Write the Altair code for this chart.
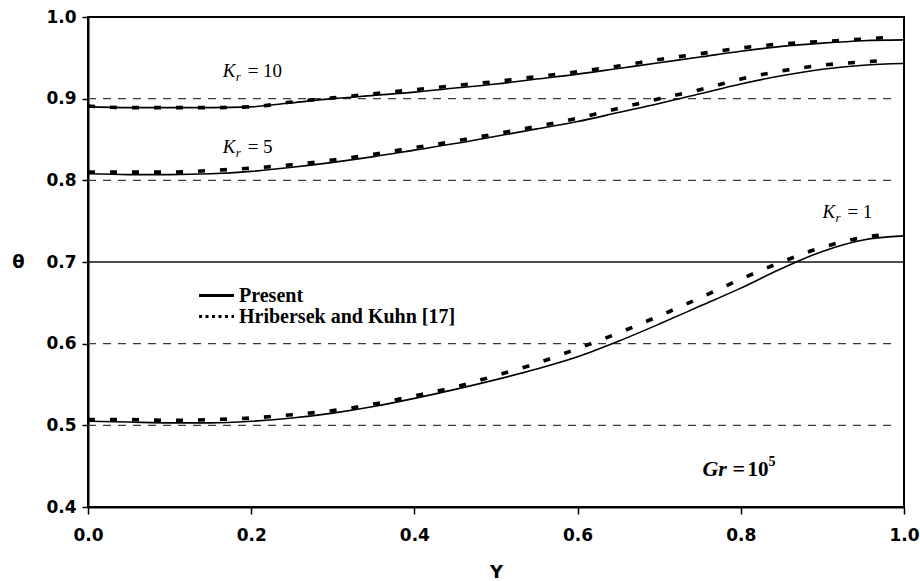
import altair as alt
import pandas as pd

# ---------------- data ----------------
Y_PRESENT = [0.0, 0.05, 0.1, 0.15, 0.2, 0.25, 0.3, 0.35, 0.4, 0.45, 0.5,
             0.55, 0.6, 0.65, 0.7, 0.75, 0.8, 0.85, 0.9, 0.95, 1.0]
Y_HK = [0.0, 0.05, 0.1, 0.15, 0.2, 0.25, 0.3, 0.35, 0.4, 0.45, 0.5,
        0.55, 0.6, 0.65, 0.7, 0.75, 0.8, 0.85, 0.9, 0.95, 0.98]

KR10_PRESENT = [0.890, 0.889, 0.889, 0.889, 0.890, 0.895, 0.900, 0.904, 0.908, 0.913, 0.918,
                0.924, 0.930, 0.937, 0.944, 0.951, 0.958, 0.964, 0.968, 0.971, 0.972]
KR10_HK = [0.891, 0.889, 0.889, 0.889, 0.890, 0.896, 0.901, 0.906, 0.911, 0.916, 0.921,
           0.927, 0.933, 0.940, 0.948, 0.955, 0.962, 0.967, 0.970, 0.973, 0.975]
KR5_PRESENT = [0.808, 0.807, 0.807, 0.808, 0.811, 0.816, 0.822, 0.829, 0.837, 0.845, 0.854,
               0.863, 0.872, 0.883, 0.894, 0.906, 0.918, 0.928, 0.936, 0.941, 0.943]
KR5_HK = [0.810, 0.810, 0.810, 0.812, 0.815, 0.819, 0.825, 0.832, 0.840, 0.848, 0.857,
          0.866, 0.876, 0.888, 0.900, 0.911, 0.924, 0.934, 0.941, 0.945, 0.947]
KR1_PRESENT = [0.505, 0.504, 0.503, 0.503, 0.505, 0.509, 0.515, 0.523, 0.533, 0.544, 0.556,
               0.569, 0.584, 0.603, 0.624, 0.646, 0.668, 0.692, 0.713, 0.727, 0.732]
KR1_HK = [0.507, 0.507, 0.506, 0.507, 0.509, 0.513, 0.518, 0.526, 0.536, 0.547, 0.561,
          0.576, 0.594, 0.613, 0.634, 0.656, 0.679, 0.700, 0.718, 0.730, 0.734]

PRESENT = "Present"
HK = "Hribersek and Kuhn [17]"

GRID_DASHED = [0.5, 0.6, 0.8, 0.9]
GRID_SOLID = [0.7]
GRID_DASH_END = 0.99

X_TICKS = [0.0, 0.2, 0.4, 0.6, 0.8, 1.0]
Y_TICKS = [0.4, 0.5, 0.6, 0.7, 0.8, 0.9, 1.0]

KR_VALUES = ["= 10", "= 5", "= 1"]
KR_LABEL_X = [0.165, 0.165, 0.900]
KR_LABEL_Y = [0.926, 0.834, 0.754]

GR_LABEL_X = [0.753]
GR_LABEL_Y = [0.4374]

# ---------------- tables ----------------
rows = []
for name, ys, vals, src in [
    ("Kr10_p", Y_PRESENT, KR10_PRESENT, PRESENT),
    ("Kr10_h", Y_HK, KR10_HK, HK),
    ("Kr5_p", Y_PRESENT, KR5_PRESENT, PRESENT),
    ("Kr5_h", Y_HK, KR5_HK, HK),
    ("Kr1_p", Y_PRESENT, KR1_PRESENT, PRESENT),
    ("Kr1_h", Y_HK, KR1_HK, HK),
]:
    for a, b in zip(ys, vals):
        rows.append({"curve": name, "source": src, "Y": a, "theta": b})
curves = pd.DataFrame(rows)

grid_d = pd.DataFrame({"theta": GRID_DASHED, "x0": [0.0] * len(GRID_DASHED),
                       "x1": [GRID_DASH_END] * len(GRID_DASHED)})
grid_s = pd.DataFrame({"theta": GRID_SOLID, "x0": [0.0], "x1": [1.0]})
kr_lab = pd.DataFrame({"Y": KR_LABEL_X, "theta": KR_LABEL_Y, "txt": KR_VALUES})
gr_lab = pd.DataFrame({"Y": GR_LABEL_X, "theta": GR_LABEL_Y})

# ---------------- scales / axes ----------------
xscale = alt.Scale(domain=[0, 1], nice=False, zero=False)
yscale = alt.Scale(domain=[0.4, 1.0], nice=False, zero=False)

xaxis = alt.Axis(values=X_TICKS, format=".1f", labelFlush=False, labelOverlap=False,
                 tickSize=7, labelPadding=13, titleY=65, titleX=408,
                 titleBaseline="middle", titleAlign="center")
yaxis = alt.Axis(values=Y_TICKS, format=".1f", labelOverlap=False,
                 tickSize=6, labelPadding=6, titleAngle=0, titleX=-70, titleY=245,
                 titleAlign="center", titleBaseline="middle")


def X(field):
    return alt.X(field, scale=xscale, axis=xaxis, title="Y")


def Yenc(field):
    return alt.Y(field, scale=yscale, axis=yaxis, title="θ")


grid_dashed = alt.Chart(grid_d).mark_rule(
    color="#3a3a3a", strokeWidth=1.2, strokeDash=[8, 7]
).encode(x=X("x0:Q"), x2="x1:Q", y=Yenc("theta:Q"))

grid_solid = alt.Chart(grid_s).mark_rule(
    color="#111111", strokeWidth=1.3
).encode(x=X("x0:Q"), x2="x1:Q", y=Yenc("theta:Q"))

lines_present = alt.Chart(curves).transform_filter(
    alt.datum.source == PRESENT
).mark_line(color="black", interpolate="monotone", strokeWidth=1.6).encode(
    x=X("Y:Q"), y=Yenc("theta:Q"), detail="curve:N"
)

lines_hk = alt.Chart(curves).transform_filter(
    alt.datum.source == HK
).mark_line(color="black", interpolate="monotone", strokeWidth=3.6, strokeDash=[7, 15]).encode(
    x=X("Y:Q"), y=Yenc("theta:Q"), detail="curve:N"
)

# legend-only layer (no rows survive the filter; the scale domain drives the legend)
legend_layer = alt.Chart(curves).transform_filter("false").mark_line(
    color="black", strokeWidth=3
).encode(
    x=X("Y:Q"), y=Yenc("theta:Q"),
    strokeDash=alt.StrokeDash(
        "source:N",
        scale=alt.Scale(domain=[PRESENT, HK], range=[[1, 0], [3, 3.5]]),
        legend=alt.Legend(
            title=None, orient="none", legendX=118, legendY=268, padding=0,
            symbolType="M-2,0H2", symbolSize=306, symbolStrokeColor="black",
            symbolStrokeWidth=3, labelFont="Liberation Serif", labelFontWeight="bold",
            labelFontSize=20, labelColor="black", labelOffset=12, rowPadding=0,
            labelLimit=500,
        ),
    ),
)

k_txt = alt.Chart(kr_lab).mark_text(
    text="K", font="Liberation Serif", fontStyle="italic", fontSize=19,
    align="left", baseline="alphabetic", color="black"
).encode(x=X("Y:Q"), y=Yenc("theta:Q"))
r_txt = alt.Chart(kr_lab).mark_text(
    text="r", font="Liberation Serif", fontStyle="italic", fontSize=13,
    align="left", baseline="alphabetic", color="black", dx=13, dy=4
).encode(x=X("Y:Q"), y=Yenc("theta:Q"))
eq_txt = alt.Chart(kr_lab).mark_text(
    font="Liberation Serif", fontSize=19,
    align="left", baseline="alphabetic", color="black", dx=25
).encode(x=X("Y:Q"), y=Yenc("theta:Q"), text="txt:N")

gr1 = alt.Chart(gr_lab).mark_text(
    text="Gr", font="Liberation Serif", fontStyle="italic", fontWeight="bold", fontSize=22,
    align="left", baseline="alphabetic", color="black"
).encode(x=X("Y:Q"), y=Yenc("theta:Q"))
gr2 = alt.Chart(gr_lab).mark_text(
    text="=", font="Liberation Serif", fontWeight="bold", fontSize=22,
    align="left", baseline="alphabetic", color="black", dx=30
).encode(x=X("Y:Q"), y=Yenc("theta:Q"))
gr2b = alt.Chart(gr_lab).mark_text(
    text="10", font="Liberation Serif", fontWeight="bold", fontSize=21,
    align="left", baseline="alphabetic", color="black", dx=45
).encode(x=X("Y:Q"), y=Yenc("theta:Q"))
gr3 = alt.Chart(gr_lab).mark_text(
    text="5", font="Liberation Serif", fontWeight="bold", fontSize=14,
    align="left", baseline="alphabetic", color="black", dx=66, dy=-10
).encode(x=X("Y:Q"), y=Yenc("theta:Q"))

chart = alt.layer(
    grid_dashed, grid_solid, lines_present, lines_hk, legend_layer,
    k_txt, r_txt, eq_txt, gr1, gr2, gr2b, gr3
).properties(
    width=816, height=490,
    autosize=alt.AutoSizeParams(type="none"),
    padding={"left": 88, "top": 17, "right": 16, "bottom": 74},
    background="white",
).configure_view(
    stroke="black", strokeWidth=2
).configure_axis(
    domainColor="black", domainWidth=2, tickColor="black", tickWidth=1.5,
    labelFont="DejaVu Sans", labelFontWeight="bold", labelFontSize=17, labelColor="black",
    titleFont="DejaVu Sans", titleFontWeight="bold", titleFontSize=18, titleColor="black",
    grid=False,
)

chart.save("out.html", embed_options={"renderer": "svg", "actions": False})
